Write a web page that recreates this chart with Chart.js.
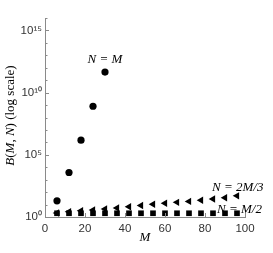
<!DOCTYPE html>
<html>
<head>
<meta charset="utf-8">
<script src="https://cdn.jsdelivr.net/npm/chart.js@4/dist/chart.umd.min.js"></script>
<style>
  html, body { margin: 0; padding: 0; background: #fff; }
  #wrap { width: 273px; height: 253px; }
</style>
</head>
<body>
<div id="wrap"><canvas id="c" width="273" height="253"></canvas></div>
<script>
// ---- data ----
const mEqual = [6, 12, 18, 24, 30];
const bEqual = [20, 3800, 1.5e6, 8e8, 4.5e11];

const mTwoThirds = [6, 12, 18, 24, 30, 36, 42, 48, 54, 60, 66, 72, 78, 84, 90, 96];
const bTwoThirds = [2.1, 2.6, 3.2, 3.6, 4.4, 5.2, 6.6, 8.3, 10.5, 12.6, 15, 18, 22, 27.5, 35, 50];

const mHalf = [6, 12, 18, 24, 30, 36, 42, 48, 54, 60, 66, 72, 78, 84, 90, 96];
const bHalf = [2, 2, 2, 2, 2, 2, 2, 2, 2, 2, 2, 2, 2, 2, 2, 2];

const xTicks = [0, 20, 40, 60, 80, 100];
const yExponents = [0, 1, 2, 3, 4, 5, 6, 7, 8, 9, 10, 11, 12, 13, 14, 15, 16];
const yLabelExponents = [0, 5, 10, 15];

const seriesLabels = ['N = M', 'N = 2M/3', 'N = M/2'];
const xTitle = 'M';

const sup = {'0':'\u2070','1':'\u00B9','2':'\u00B2','3':'\u00B3','4':'\u2074','5':'\u2075','6':'\u2076','7':'\u2077','8':'\u2078','9':'\u2079'};
function toSup(n) { return String(n).split('').map(c => sup[c]).join(''); }

function pts(xs, ys) { return xs.map((x, i) => ({x: x, y: ys[i]})); }

const AXIS = '#8a8a8a';

const decorPlugin = {
  id: 'decor',
  afterDraw(chart) {
    const ctx = chart.ctx;
    const xs = chart.scales.x, ys = chart.scales.y;
    const area = chart.chartArea;
    ctx.save();
    // inward tick marks
    ctx.strokeStyle = AXIS;
    ctx.lineWidth = 1;
    ctx.beginPath();
    yExponents.forEach(e => {
      const py = Math.round(ys.getPixelForValue(Math.pow(10, e))) + 0.5;
      const len = (e % 5 === 0) ? 4 : 2.5;
      ctx.moveTo(area.left, py);
      ctx.lineTo(area.left + len, py);
    });
    xTicks.forEach(v => {
      const px = Math.round(xs.getPixelForValue(v)) + 0.5;
      ctx.moveTo(px, area.bottom);
      ctx.lineTo(px, area.bottom - 4);
    });
    ctx.stroke();

    // series annotations
    ctx.fillStyle = '#000';
    ctx.font = 'italic 13px "Liberation Serif", "DejaVu Serif", serif';
    ctx.textBaseline = 'alphabetic';
    ctx.textAlign = 'center';
    ctx.fillText(seriesLabels[0], xs.getPixelForValue(30), ys.getPixelForValue(Math.pow(10, 12.4)));
    ctx.textAlign = 'left';
    ctx.fillText(seriesLabels[1], xs.getPixelForValue(83.5), ys.getPixelForValue(Math.pow(10, 2.13)));
    ctx.fillText(seriesLabels[2], xs.getPixelForValue(86), ys.getPixelForValue(Math.pow(10, 0.36)));

    // y-axis title with mixed italic / roman
    const segs = [
      ['B', true], ['(', false], ['M', true], [', ', false], ['N', true], [')', false], [' (log scale)', false]
    ];
    const fI = 'italic 13px "Liberation Serif", "DejaVu Serif", serif';
    const fR = '13px "Liberation Serif", "DejaVu Serif", serif';
    let total = 0;
    segs.forEach(s => { ctx.font = s[1] ? fI : fR; total += ctx.measureText(s[0]).width; });
    const cy = (area.top + area.bottom) / 2 - 2;
    ctx.translate(14, cy);
    ctx.rotate(-Math.PI / 2);
    let x = -total / 2;
    ctx.textAlign = 'left';
    segs.forEach(s => {
      ctx.font = s[1] ? fI : fR;
      ctx.fillText(s[0], x, 0);
      x += ctx.measureText(s[0]).width;
    });
    ctx.restore();
  }
};

new Chart(document.getElementById('c'), {
  type: 'scatter',
  data: {
    datasets: [
      { label: seriesLabels[0], data: pts(mEqual, bEqual), pointStyle: 'circle', pointRadius: 3.6,
        backgroundColor: '#000', borderColor: '#000', borderWidth: 0 },
      { label: seriesLabels[1], data: pts(mTwoThirds, bTwoThirds), pointStyle: 'triangle', rotation: -90, pointRadius: 4.3,
        backgroundColor: '#000', borderColor: '#000', borderWidth: 0 },
      { label: seriesLabels[2], data: pts(mHalf, bHalf), pointStyle: 'rect', pointRadius: 4,
        backgroundColor: '#000', borderColor: '#000', borderWidth: 0 }
    ]
  },
  options: {
    responsive: false,
    animation: false,
    events: [],
    layout: { padding: { top: 18, right: 28, left: 0, bottom: 8 } },
    plugins: { legend: { display: false }, tooltip: { enabled: false } },
    scales: {
      x: {
        type: 'linear', min: 0, max: 100,
        afterFit: s => { s.height = 28; },
        afterBuildTicks: s => { s.ticks = xTicks.map(v => ({value: v})); },
        grid: { display: false, drawTicks: false },
        border: { display: true, color: AXIS, width: 1 },
        ticks: { color: '#333', padding: 5, font: { family: '"Liberation Sans", Arial, sans-serif', size: 11.5 }, maxRotation: 0 },
        title: { display: true, text: xTitle, color: '#000', padding: { top: 0, bottom: 0 },
                 font: { family: '"Liberation Serif", "DejaVu Serif", serif', size: 13, style: 'italic' } }
      },
      y: {
        type: 'logarithmic', min: 1, max: 1e16,
        afterFit: s => { s.width = 45; },
        afterBuildTicks: s => { s.ticks = yExponents.map(e => ({value: Math.pow(10, e)})); },
        grid: { display: false, drawTicks: false },
        border: { display: true, color: AXIS, width: 1 },
        ticks: {
          color: '#333', padding: 3, autoSkip: false,
          font: { family: '"Liberation Sans", Arial, sans-serif', size: 11.5 },
          callback: function(v) {
            const e = Math.round(Math.log10(v));
            return yLabelExponents.includes(e) ? '10' + toSup(e) : '';
          }
        }
      }
    }
  },
  plugins: [decorPlugin]
});
</script>
</body>
</html>
